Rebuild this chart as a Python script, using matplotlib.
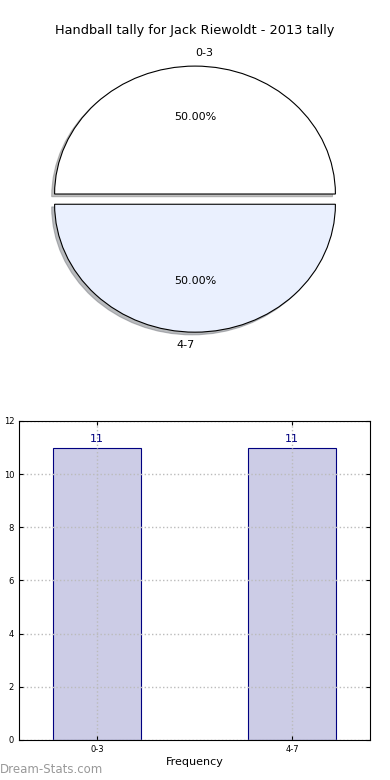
import matplotlib
matplotlib.use('Agg')
import matplotlib.pyplot as plt

# data
categories = ['0-3', '4-7']
counts = [11, 11]
pie_colors = ['#ffffff', '#eaf0fe']

fig = plt.figure(figsize=(3.9, 7.8), dpi=100)

# pie chart (top)
ax1 = fig.add_axes([0.05, 0.5397, 0.9, 0.41])
wedges, texts, autotexts = ax1.pie(counts, labels=categories, colors=pie_colors,
                                   explode=[0.04, 0.04],
                                   shadow={'ox': -0.015, 'oy': -0.015, 'shade': 0.5},
                                   autopct='%1.2f%%',
                                   startangle=0, labeldistance=1.1, pctdistance=0.6,
                                   wedgeprops={'edgecolor': 'black', 'linewidth': 0.8},
                                   textprops={'fontsize': 8})
texts[0].set_ha('left')
texts[1].set_ha('right')
ax1.set_aspect('auto')
ax1.set_xlim(-1.25, 1.25)
ax1.set_ylim(-1.25, 1.25)
ax1.set_title('Handball tally for Jack Riewoldt - 2013 tally', fontsize=9.3, pad=3.5)

# bar chart (bottom)
ax2 = fig.add_axes([0.0487, 0.0513, 0.9, 0.409])
x = list(range(len(categories)))
ax2.bar(x, counts, width=0.45, color='#ccccе6'.replace('е', 'e'), edgecolor='navy', linewidth=0.8)
for xi, c in zip(x, counts):
    ax2.text(xi, c + 0.15, str(c), ha='center', va='bottom', color='navy', fontsize=8)
ax2.set_xlim(-0.4, 1.4)
ax2.set_ylim(0, 12)
ax2.set_yticks(range(0, 13, 2))
ax2.set_xticks(x)
ax2.set_xticklabels(categories)
ax2.tick_params(labelsize=6, direction='in', top=True, right=True, length=3)
ax2.grid(True, linestyle=':', color='#bbbbbb', linewidth=1)
ax2.set_xlabel('Frequency', fontsize=8, labelpad=2)
ax2.set_ylabel('Total Handballs', fontsize=8)
ax2.yaxis.set_label_coords(-0.046, 0.5)

fig.text(0.0, 0.005, 'Dream-Stats.com', fontsize=8.5, color='#999999',
         ha='left', va='bottom')

fig.savefig('out.png', dpi=100)
